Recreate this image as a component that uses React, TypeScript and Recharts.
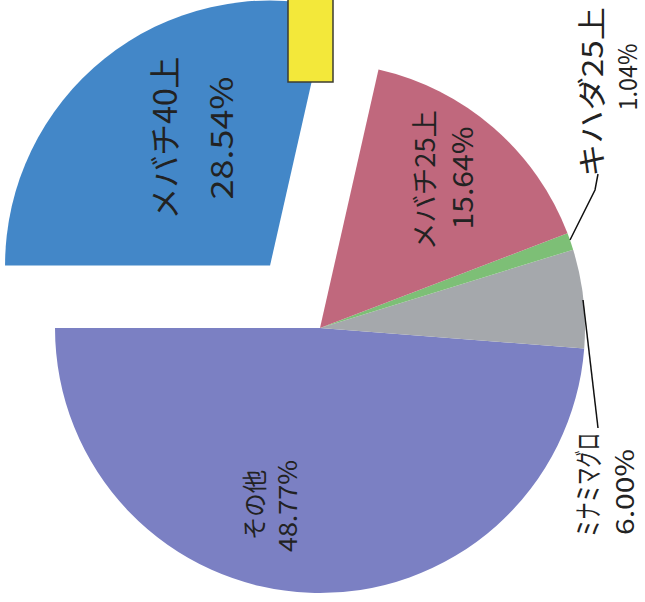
import { PieChart, Pie, Cell } from "recharts"

// shares of catch (%), counter-clockwise from the left
const categories = ["その他", "ミナミマグロ", "キハダ25上", "メバチ25上", "メバチ40上"]
const shares = [48.77, 6.0, 1.04, 15.64, 28.54]
const colors = ["#7b80c3", "#a5a8ac", "#7dbf76", "#c0687d", "#4387c8"]

const data = categories.map((name, i) => ({ name, value: shares[i] }))

const CX = 320
const CY = 328
const R = 265
const START = 180
const EXPLODED = 4
const EXPLODE_DIST = 80

// where the pulled-out slice goes
const total = shares.reduce((a, b) => a + b, 0)
const before = shares.slice(0, EXPLODED).reduce((a, b) => a + b, 0)
const midAngle = START + (360 * (before + shares[EXPLODED] / 2)) / total
const ex = CX + EXPLODE_DIST * Math.cos((midAngle * Math.PI) / 180)
const ey = CY - EXPLODE_DIST * Math.sin((midAngle * Math.PI) / 180)

// label placement (rotated text): [x, y, length, fontSize]
const labelLayout = [
  { name: [253, 505, 70, 25], pct: [286, 506, 92, 25] },
  { name: [587, 485, 104, 28], pct: [623, 492, 86, 25] },
  { name: [590, 92, 170, 29], pct: [626, 77, 67, 25] },
  { name: [423, 180, 140, 27], pct: [461, 178, 103, 28] },
  { name: [163, 138, 163, 32], pct: [219, 138, 123, 31] },
]

const leaders: Record<number, string> = {
  1: "583,300 598,428",
  2: "570,240 595,190 598,174",
}

function RotText({ x, y, len, size, children }: any) {
  return (
    <text
      x={x}
      y={y}
      transform={`rotate(-90, ${x}, ${y})`}
      textAnchor="middle"
      dominantBaseline="central"
      fontSize={size}
      textLength={len}
      lengthAdjust="spacingAndGlyphs"
      fill="#222"
      fontFamily="'Noto Sans CJK JP', 'Noto Sans', sans-serif"
    >
      {children}
    </text>
  )
}

function Overlay() {
  return (
    <svg
      width={645}
      height={602}
      style={{ position: "absolute", left: 0, top: 0, pointerEvents: "none" }}
    >
      <rect x={288} y={-2} width={45} height={84} fill="#f3e83a" stroke="#3c3c30" strokeWidth={1.5} />
      {Object.entries(leaders).map(([k, pts]) => (
        <polyline key={k} points={pts} fill="none" stroke="#111" strokeWidth={1.5} />
      ))}
      {labelLayout.map((l, i) => (
        <g key={i}>
          <RotText x={l.name[0]} y={l.name[1]} len={l.name[2]} size={l.name[3]}>
            {categories[i]}
          </RotText>
          <RotText x={l.pct[0]} y={l.pct[1]} len={l.pct[2]} size={l.pct[3]}>
            {shares[i].toFixed(2) + "%"}
          </RotText>
        </g>
      ))}
    </svg>
  )
}

export default function App() {
  return (
    <div style={{ position: "absolute", left: 0, top: 0, width: 645, height: 602, background: "#fff" }}>
      <PieChart width={645} height={602} margin={{ top: 0, right: 0, bottom: 0, left: 0 }}>
        <Pie
          data={data}
          dataKey="value"
          cx={CX}
          cy={CY}
          outerRadius={R}
          startAngle={START}
          endAngle={START + 360}
          stroke="none"
          isAnimationActive={false}
        >
          {data.map((d, i) => (
            <Cell key={d.name} fill={i === EXPLODED ? "transparent" : colors[i]} />
          ))}
        </Pie>
        <Pie
          data={data}
          dataKey="value"
          cx={ex}
          cy={ey}
          outerRadius={R}
          startAngle={START}
          endAngle={START + 360}
          stroke="none"
          isAnimationActive={false}
        >
          {data.map((d, i) => (
            <Cell key={d.name} fill={i === EXPLODED ? colors[i] : "transparent"} />
          ))}
        </Pie>
      </PieChart>
      <Overlay />
    </div>
  )
}
